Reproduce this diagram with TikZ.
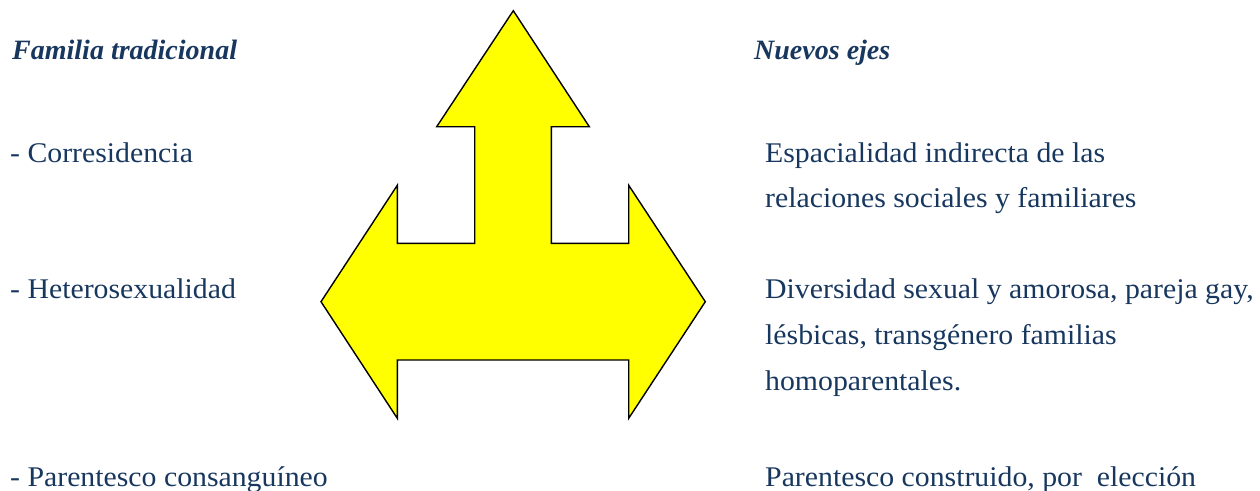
\documentclass[tikz,border=0pt]{standalone}
\usepackage{fontspec}
\setmainfont{Liberation Serif}
\newfontfamily\bodyfont[FakeStretch=1.045]{Liberation Serif}
\definecolor{navy}{RGB}{23,55,94}
\definecolor{arrowyellow}{RGB}{255,255,0}
\begin{document}
\begin{tikzpicture}[x=1pt,y=-1pt,
  head/.style={anchor=base west,inner sep=0pt,text=navy,font=\fontsize{28}{34}\selectfont\bfseries\itshape},
  item/.style={anchor=base west,inner sep=0pt,text=navy,font=\bodyfont\fontsize{28.5}{34}\selectfont},
  shape3/.style={fill=arrowyellow,draw=black,line width=1.4pt,line join=miter}]
\useasboundingbox (0,0) rectangle (1260,490);
% three-way arrow
\draw[shape3] (513.3,10.7) -- (589.3,126.7) -- (551.3,126.7) -- (551.3,243.3)
  -- (628.7,243.3) -- (628.7,185.3) -- (705.3,301.7) -- (628.7,418.3)
  -- (628.7,360) -- (397.3,360) -- (397.3,418.3) -- (321,301.7)
  -- (397.3,185.3) -- (397.3,243.3) -- (474.7,243.3) -- (474.7,126.7)
  -- (436.7,126.7) -- cycle;
% headers
\node[head] (h1) at (12,59) {Familia tradicional};
\node[head] (h2) at (754,59) {Nuevos ejes};
% left column
\node[item] (l1) at (10,162) {- Corresidencia};
\node[item] (l2) at (10,298) {- Heterosexualidad};
\node[item] (l3) at (10,486) {- Parentesco consanguíneo};
% right column
\node[item] (r1) at (765,162) {Espacialidad indirecta de las};
\node[item] (r2) at (765,207) {relaciones sociales y familiares};
\node[item] (r3) at (765,298) {Diversidad sexual y amorosa, pareja gay,};
\node[item] (r4) at (765,344) {lésbicas, transgénero familias};
\node[item] (r5) at (765,390) {homoparentales.};
\node[item] (r6) at (765,486) {Parentesco construido, por\ \ elección};
\end{tikzpicture}
\end{document}
